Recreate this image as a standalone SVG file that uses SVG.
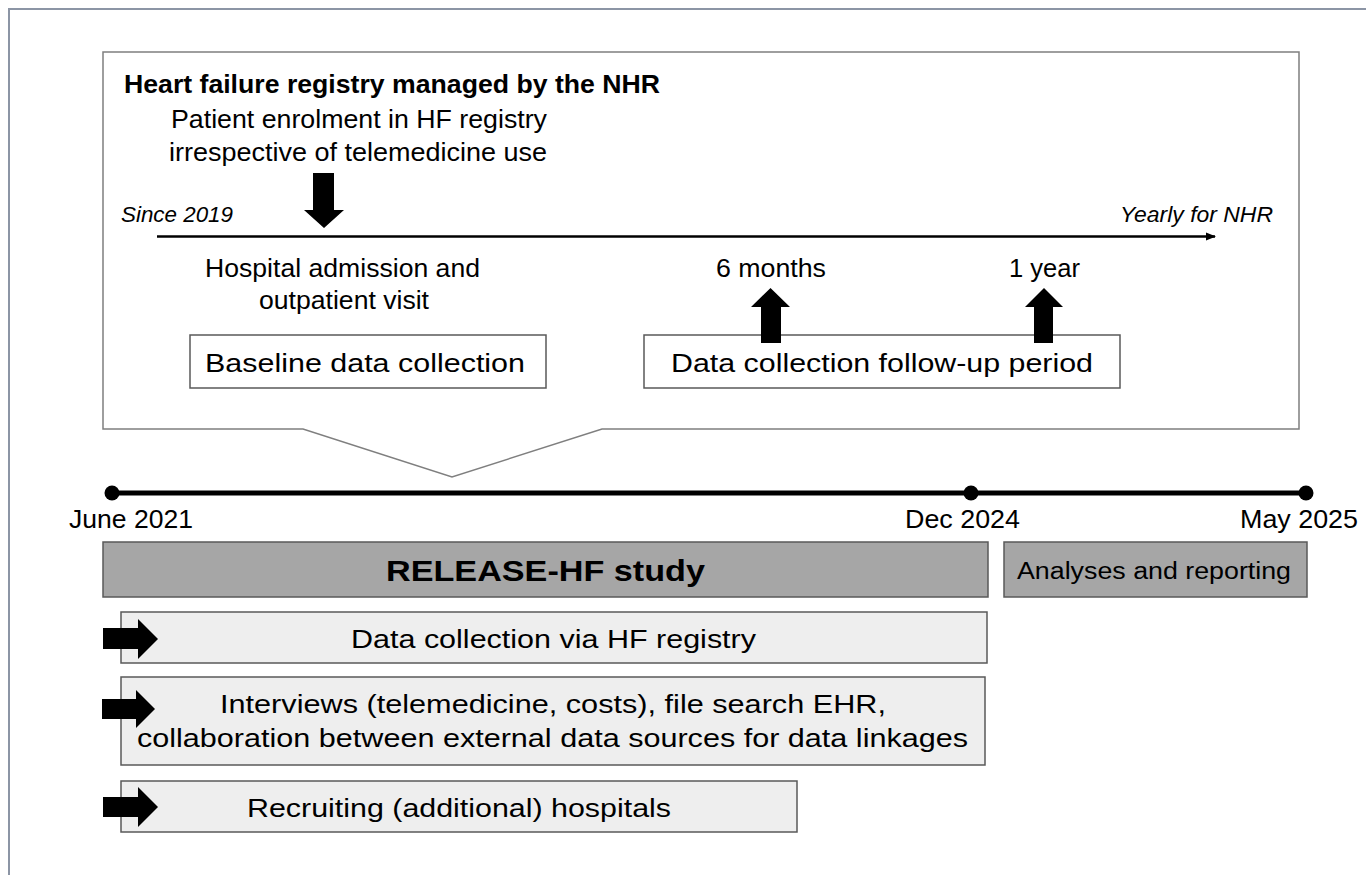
<svg xmlns="http://www.w3.org/2000/svg" width="1366" height="875" viewBox="0 0 1366 875">
<style>
text{font-family:"Liberation Sans",Arial,sans-serif;fill:#000;}
.t24{font-size:25px;}
.t25{font-size:26px;}
.it{font-size:22px;font-style:italic;}
.box{stroke:#595959;stroke-width:1.5;}
.white{fill:#fff;}
.dark{fill:#a6a6a6;}
.light{fill:#eeeeee;}
.arr{fill:#000;}
</style>
<defs>
<marker id="ah" markerWidth="10" markerHeight="10" refX="9" refY="5" orient="auto" markerUnits="userSpaceOnUse">
<path d="M0,1 L10,5 L0,9 Z" fill="#000"/>
</marker>
</defs>
<rect width="1366" height="875" fill="#fff"/>
<g id="frame">
<path d="M9,875 V9 H1366" fill="none" stroke="#8c95a5" stroke-width="2"/>
</g>
<g id="callout">
<path d="M103,52 H1299 V429 H602 L452,477 L303,429 H103 Z" fill="#fff" stroke="#7f7f7f" stroke-width="1.5"/>
<text x="124" y="93" font-size="25" font-weight="bold" textLength="536" lengthAdjust="spacingAndGlyphs">Heart failure registry managed by the NHR</text>
<text class="t25" x="171" y="128" textLength="376" lengthAdjust="spacingAndGlyphs">Patient enrolment in HF registry</text>
<text class="t25" x="169" y="161" textLength="378" lengthAdjust="spacingAndGlyphs">irrespective of telemedicine use</text>
<text class="it" x="121" y="222" textLength="112" lengthAdjust="spacingAndGlyphs">Since 2019</text>
<text class="it" x="1120" y="222" textLength="153" lengthAdjust="spacingAndGlyphs">Yearly for NHR</text>
<text class="t24" x="205" y="277" textLength="275" lengthAdjust="spacingAndGlyphs">Hospital admission and</text>
<text class="t24" x="259" y="309" textLength="170" lengthAdjust="spacingAndGlyphs">outpatient visit</text>
<text class="t24" x="716" y="277" textLength="110" lengthAdjust="spacingAndGlyphs">6 months</text>
<text class="t24" x="1009" y="277" textLength="71" lengthAdjust="spacingAndGlyphs">1 year</text>
</g>
<g id="baseline">
<rect class="box white" x="190" y="335" width="356" height="53"/>
<text class="t25" x="205" y="372" textLength="320" lengthAdjust="spacingAndGlyphs">Baseline data collection</text>
</g>
<g id="followup">
<rect class="box white" x="644" y="335" width="476" height="53"/>
<text class="t25" x="671" y="372" textLength="422" lengthAdjust="spacingAndGlyphs">Data collection follow-up period</text>
</g>
<g id="connectors">
<line x1="157" y1="236.5" x2="1215" y2="236.5" stroke="#000" stroke-width="2.5" marker-end="url(#ah)"/>
<polygon class="arr" points="313,173 334,173 334,210 344,210 324,228 304,210 313,210"/>
<polygon class="arr" points="761,343 761,307 751,307 770.5,288 790,307 781,307 781,343"/>
<polygon class="arr" points="1034,343 1034,307 1025,307 1044,288 1063,307 1053,307 1053,343"/>
<line x1="112" y1="493" x2="1306" y2="493" stroke="#000" stroke-width="5"/>
<circle cx="112" cy="493" r="7.5" fill="#000"/>
<circle cx="971" cy="493" r="7.5" fill="#000"/>
<circle cx="1306" cy="493" r="7.5" fill="#000"/>
</g>
<g id="dates">
<text class="t24" x="69" y="528" textLength="124" lengthAdjust="spacingAndGlyphs">June 2021</text>
<text class="t24" x="905" y="528" textLength="115" lengthAdjust="spacingAndGlyphs">Dec 2024</text>
<text class="t24" x="1240" y="528" textLength="118" lengthAdjust="spacingAndGlyphs">May 2025</text>
</g>
<g id="release">
<rect class="box dark" x="103" y="542" width="885" height="55"/>
<text x="386" y="581" font-size="29" font-weight="bold" textLength="319" lengthAdjust="spacingAndGlyphs">RELEASE-HF study</text>
</g>
<g id="analyses">
<rect class="box dark" x="1004" y="542" width="303" height="55"/>
<text x="1017" y="579" font-size="23" textLength="274" lengthAdjust="spacingAndGlyphs">Analyses and reporting</text>
</g>
<g id="task1">
<rect class="box light" x="121" y="612" width="866" height="51"/>
<text class="t24" x="351" y="648" textLength="405" lengthAdjust="spacingAndGlyphs">Data collection via HF registry</text>
<polygon class="arr" points="103,628 138,628 138,619 158,639 138,659 138,649 103,649"/>
</g>
<g id="task2">
<rect class="box light" x="121" y="677" width="864" height="88"/>
<text class="t24" x="220" y="713" textLength="666" lengthAdjust="spacingAndGlyphs">Interviews (telemedicine, costs), file search EHR,</text>
<text class="t24" x="137" y="747" textLength="831" lengthAdjust="spacingAndGlyphs">collaboration between external data sources for data linkages</text>
<polygon class="arr" points="102,699 136,699 136,690 155,709 136,728 136,719 102,719"/>
</g>
<g id="task3">
<rect class="box light" x="121" y="781" width="676" height="51"/>
<text class="t24" x="247" y="817" textLength="424" lengthAdjust="spacingAndGlyphs">Recruiting (additional) hospitals</text>
<polygon class="arr" points="103,797 138,797 138,787 158,807 138,827 138,817 103,817"/>
</g>
</svg>
